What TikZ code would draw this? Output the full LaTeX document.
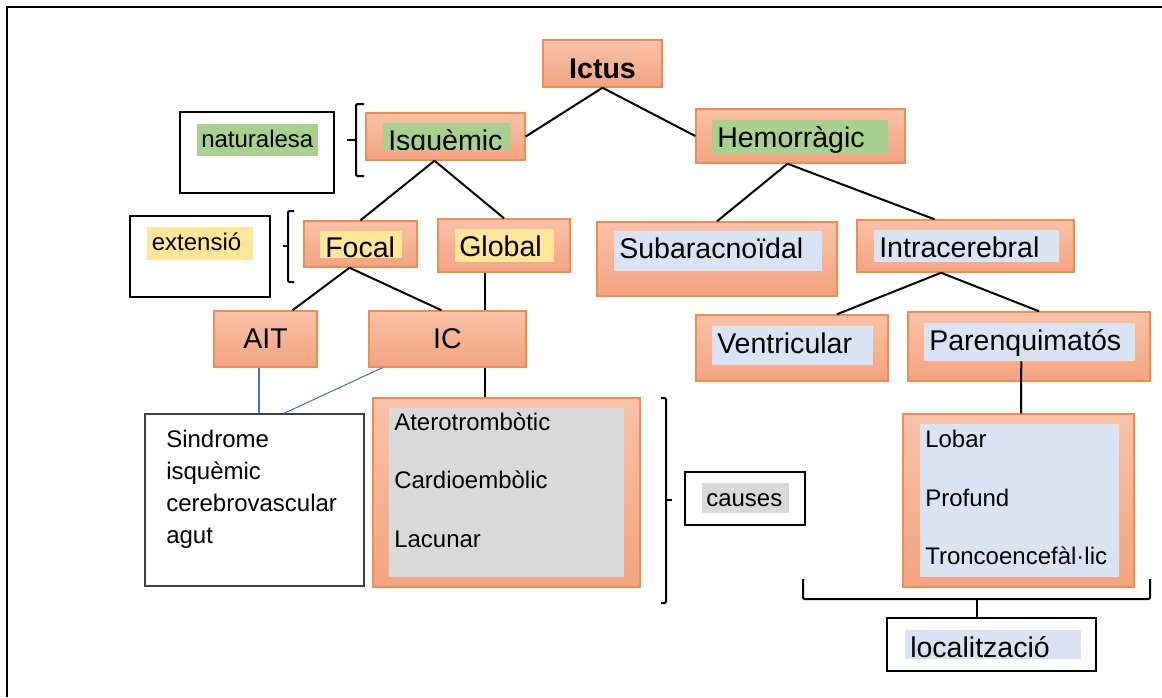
\documentclass[tikz,border=0pt]{standalone}
\usepackage{fontspec}
\setmainfont{Liberation Sans}
\usepackage{tikz}
\usetikzlibrary{calc}
\usepackage{xcolor}
\definecolor{BoxTop}{HTML}{F8C1A7}
\definecolor{BoxBottom}{HTML}{F4A480}
\definecolor{BoxEdge}{HTML}{F08C4E}
\definecolor{MarkGreen}{HTML}{A9D18E}
\definecolor{MarkYellow}{HTML}{FFE699}
\definecolor{MarkBlue}{HTML}{DAE3F3}
\definecolor{MarkGray}{HTML}{D9D9D9}
\definecolor{LinkBlue}{HTML}{4472C4}
\definecolor{NoteEdge}{HTML}{404040}
\newcommand{\boxfont}{\fontsize{21.4}{25}\selectfont}
\newcommand{\notefont}{\fontsize{18}{22}\selectfont}
\tikzset{
  obox/.style={draw=BoxEdge, line width=1.1pt, top color=BoxTop, bottom color=BoxBottom,
               inner sep=0pt, font=\boxfont},
  hilite/.style={anchor=base west, inner xsep=3.75pt, inner ysep=0pt, text height=20.5pt,
                 align=left, font=\boxfont},
  greenmark/.style={hilite, fill=MarkGreen},
  yellowmark/.style={hilite, fill=MarkYellow},
  bluemark/.style={hilite, fill=MarkBlue},
  graymark/.style={hilite, fill=MarkGray},
  smallmark/.style={font=\notefont, text height=17.3pt, inner xsep=3pt},
  tagbox/.style={draw=black, line width=1.5pt, inner sep=0pt},
  link/.style={line width=1.5pt},
  bluelink/.style={draw=LinkBlue, line width=0.8pt},
  brack/.style={line width=1.5pt, rounded corners=1pt},
}

\begin{document}
\begin{tikzpicture}[x=0.75pt, y=-0.75pt]
  \useasboundingbox (0,0) rectangle (1162,697);
  \draw[line width=1.8pt] (7,697) -- (7,7) -- (1162,7);

  % top levels
  \node[obox, minimum width=89.25pt, minimum height=35.25pt, text height=21.8pt, text depth=0pt,
        font=\boxfont\bfseries] (ictus) at (602.5,63.5) {Ictus};
  \node[obox, minimum width=119.25pt, minimum height=35.25pt] (isq) at (445.5,136.5) {};
  \node[obox, minimum width=156.75pt, minimum height=40.5pt] (hem) at (800.5,136) {};
  \begin{scope}
    \clip (383,123) rectangle (510,149);
    \node[greenmark, text width=87.75pt, text depth=2pt] (isqt) at (383,150.4) {Isquèmic};
  \end{scope}
  \node[greenmark, text width=124.5pt, text depth=5.25pt] (hemt) at (712,147) {Hemorràgic};

  \node[obox, minimum width=84.75pt, minimum height=34.5pt] (focal) at (360.5,244) {};
  \node[obox, minimum width=99pt, minimum height=39.75pt] (glob) at (504,245.5) {};
  \node[obox, minimum width=180pt, minimum height=55.5pt] (sub) at (717,259) {};
  \node[obox, minimum width=162.75pt, minimum height=39pt] (intra) at (965.5,246) {};
  \begin{scope}
    \clip (320,231) rectangle (402,257);
    \node[yellowmark, text width=54pt, text depth=2pt] (focalt) at (320,257.7) {Focal};
  \end{scope}
  \node[yellowmark, inner xsep=3pt, text width=68.25pt, text depth=4.5pt] (globt) at (455,256) {Global};
  \node[bluemark, text width=148.5pt, text depth=9.2pt] (subt) at (614,258.7) {Subaracnoïdal};
  \node[bluemark, text width=131.25pt, text depth=3.2pt] (intrat) at (874,257.7) {Intracerebral};

  \node[obox, minimum width=77.25pt, minimum height=42pt] (ait) at (265.5,339) {AIT};
  \node[obox, minimum width=117.75pt, minimum height=42pt] (ic) at (447.5,339) {IC};
  \node[obox, minimum width=144pt, minimum height=49.5pt] (vent) at (792,348) {};
  \node[obox, minimum width=181.5pt, minimum height=51.75pt] (paren) at (1029,346.5) {};
  \node[bluemark, text width=113.25pt, text depth=8.5pt] (ventt) at (712,353.7) {Ventricular};
  \node[bluemark, text width=150.75pt, text depth=8pt] (parent) at (924,350.4) {Parenquimatós};

  % lists
  \node[obox, minimum width=200.25pt, minimum height=141.75pt] (etio) at (506.5,492.5) {};
  \node[fill=MarkGray, minimum width=176.25pt, minimum height=126.75pt, inner sep=0pt] (etiol) at (506.5,492.5) {};
  \node[anchor=north west, inner sep=0pt, align=left, font=\fontsize{18}{43.9}\selectfont]
    (etiot) at (394,412.5) {Aterotrombòtic\\Cardioembòlic\\Lacunar};
  \node[obox, minimum width=173.25pt, minimum height=129.75pt] (situ) at (1018.5,500.5) {};
  \node[fill=MarkBlue, minimum width=149.25pt, minimum height=114.75pt, inner sep=0pt] (situl) at (1019.5,500.5) {};
  \node[anchor=north west, inner sep=0pt, align=left, font=\fontsize{18}{43.9}\selectfont]
    (situt) at (925,430) {Lobar\\Profund\\Troncoencefàl·lic};

  \node[draw=NoteEdge, line width=1pt, minimum width=164.25pt, minimum height=129pt, inner sep=0pt] (sind) at (254.5,500) {};
  \node[anchor=north west, inner sep=0pt, align=left, font=\fontsize{18}{24}\selectfont]
    (sindt) at (166,429.5) {Sindrome\\isquèmic\\cerebrovascular\\agut};

  % side labels
  \node[tagbox, minimum width=115.5pt, minimum height=60.75pt] (nat) at (257,152.5) {};
  \node[greenmark, smallmark, text width=84.75pt, text depth=6.75pt] (natt) at (197,147) {naturalesa};
  \node[tagbox, minimum width=105pt, minimum height=60.75pt] (ext) at (200,256.5) {};
  \node[yellowmark, smallmark, inner xsep=3.4pt, text width=72.75pt, text depth=7.5pt] (extt) at (147,250) {extensió};
  \node[tagbox, minimum width=90pt, minimum height=39.75pt] (caus) at (745,498.5) {};
  \node[graymark, smallmark, text width=59.25pt, text depth=5.25pt] (caust) at (702,506) {causes};
  \node[tagbox, minimum width=156.75pt, minimum height=39.75pt] (loc) at (991.5,644.5) {};
  \node[bluemark, text width=124.5pt, text depth=1.5pt] (loct) at (905,657) {localització};

  % links
  \draw[link] (ictus.south) -- (isq.east);
  \draw[link] (ictus.south) -- (hem.west);
  \draw[link] ($(isq.south)+(-11,0)$) -- (focal.north);
  \draw[link] ($(isq.south)+(-11,0)$) -- (glob.north);
  \draw[link] ($(hem.south)+(-13,0)$) -- (sub.north);
  \draw[link] ($(hem.south)+(-13,0)$) -- ($(intra.north)+(-31,0)$);
  \draw[link] ($(focal.south)+(-11,0)$) -- ($(ait.north)+(27,0)$);
  \draw[link] ($(focal.south)+(-11,0)$) -- ($(ic.north)+(-6,0)$);
  \draw[link] ($(glob.south)+(-19,0)$) -- ($(ic.north)+(37.5,0)$);
  \draw[link] ($(ic.south)+(37.5,0)$) -- ($(etio.north)+(-21.5,0)$);
  \draw[link] ($(intra.south)+(-24.5,0)$) -- ($(vent.north)+(45,0)$);
  \draw[link] ($(intra.south)+(-24.5,0)$) -- ($(paren.north)+(10,0)$);
  \draw[link] ($(parent.south)+(-8.5,0)$) -- ($(situ.north)+(2.5,0)$);
  \draw[bluelink] ($(ait.south)+(-6.5,0)$) -- ($(sind.north)+(4.5,0)$);
  \draw[bluelink] ($(ic.south west)+(14,0)$) -- ($(sind.north)+(29.5,0)$);

  % brackets
  \draw[brack] (364,104) -- (356,104) -- (356,176) -- (364,176);
  \draw[brack] (347,140) -- (356,140);
  \draw[brack] (294,211) -- (288,211) -- (288,282) -- (294,282);
  \draw[brack] (283,246) -- (288,246);
  \draw[brack] (661,398) -- (666,398) -- (666,603) -- (661,603);
  \draw[brack] (666,500) -- (672,500);
  \draw[brack] (803,579) -- (803,599) -- (1150,599) -- (1150,579);
  \draw[link] ($(loc.north)+(-14.5,0)$) -- ($(loc.north)+(-14.5,-19)$);
\end{tikzpicture}
\end{document}
